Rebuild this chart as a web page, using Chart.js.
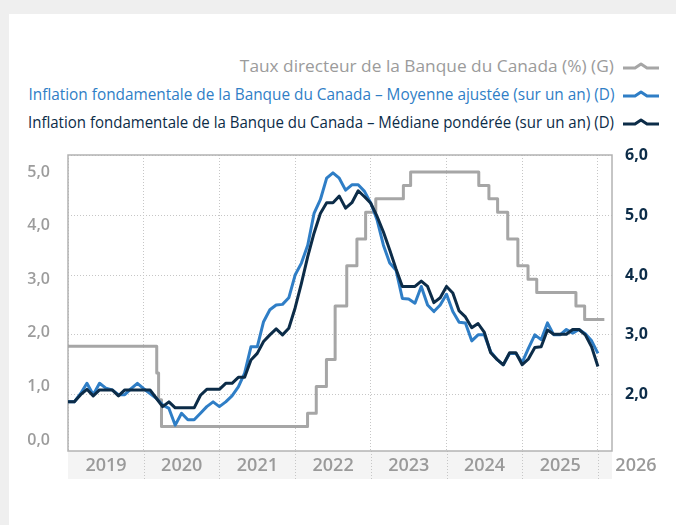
<!DOCTYPE html>
<html lang="fr">
<head>
<meta charset="utf-8">
<title>Taux directeur et inflation fondamentale</title>
<script src="https://cdn.jsdelivr.net/npm/chart.js@4.4.1/dist/chart.umd.min.js"></script>
<style>
  html, body { margin: 0; padding: 0; }
  body { width: 676px; height: 525px; background: #efefef; position: relative; overflow: hidden; font-family: 'Open Sans', sans-serif; }
  .panel { position: absolute; left: 9px; top: 14px; right: 0; bottom: 0; background: #fff; }
  .legend { position: absolute; right: 16px; top: 51px; }
  .legend-row { display: flex; justify-content: flex-end; align-items: center; height: 28px; white-space: nowrap;
    font-family: 'Open Sans', sans-serif; font-size: 17px; }
  .legend-row span { display: inline-block; transform-origin: right center; }
  .legend-row svg { margin-left: 8px; }
  #chart { position: absolute; left: 0; top: 0; }
</style>
</head>
<body>
<div class="panel"></div>
<div class="legend" id="legend"></div>
<canvas id="chart" width="676" height="525"></canvas>
<script>
// monthly series, first point = janvier 2019
const firstYear = 2019;
const trimValues = [
  1.88, 1.88, 2.02, 2.19, 2.0, 2.19, 2.11, 2.08, 2.0, 2.0, 2.1, 2.19,
  2.1, 2.02, 1.94, 1.83, 1.77, 1.49, 1.69, 1.58, 1.58, 1.69, 1.8, 1.88,
  1.8, 1.88, 1.98, 2.13, 2.36, 2.8, 2.8, 3.22, 3.42, 3.5, 3.51, 3.62,
  4.0, 4.2, 4.5, 5.03, 5.26, 5.62, 5.71, 5.62, 5.42, 5.51, 5.51, 5.4,
  5.2, 4.92, 4.5, 4.2, 4.08, 3.61, 3.6, 3.53, 3.81, 3.5, 3.39, 3.5,
  3.68, 3.39, 3.21, 3.2, 2.9, 3.0, 3.0, 2.72, 2.59, 2.5, 2.69, 2.69,
  2.54, 2.78, 3.0, 2.92, 3.2, 3.0, 3.0, 3.09, 3.03, 3.09, 3.02, 2.9, 2.69
];
const medianValues = [
  1.88, 1.88, 2.0, 2.09, 1.98, 2.08, 2.08, 2.08, 1.98, 2.08, 2.08, 2.08,
  2.08, 2.08, 1.94, 1.8, 1.88, 1.78, 1.78, 1.78, 1.78, 1.99, 2.09, 2.09,
  2.09, 2.19, 2.19, 2.29, 2.29, 2.58, 2.69, 2.89, 3.0, 3.1, 3.0, 3.11,
  3.45, 3.86, 4.31, 4.7, 5.03, 5.21, 5.21, 5.32, 5.12, 5.21, 5.41, 5.31,
  5.2, 4.98, 4.72, 4.42, 4.1, 3.81, 3.81, 3.81, 3.9, 3.81, 3.54, 3.62,
  3.81, 3.7, 3.4, 3.3, 3.12, 3.19, 3.04, 2.7, 2.59, 2.5, 2.7, 2.7,
  2.5, 2.6, 2.79, 2.8, 3.08, 3.01, 3.01, 3.01, 3.09, 3.09, 3.0, 2.8, 2.47
];

// taux directeur : dates de changement
const rateDates = [
  '2019-01-01', '2020-03-04', '2020-03-13', '2020-03-27', '2022-03-02', '2022-04-13',
  '2022-06-01', '2022-07-13', '2022-09-07', '2022-10-26', '2022-12-07', '2023-01-25',
  '2023-06-07', '2023-07-12', '2024-06-05', '2024-07-24', '2024-09-04', '2024-10-23',
  '2024-12-11', '2025-01-29', '2025-03-12', '2025-09-17', '2025-10-29', '2026-02-01'
];
const rateValues = [
  1.75, 1.25, 0.75, 0.25, 0.5, 1.0,
  1.5, 2.5, 3.25, 3.75, 4.25, 4.5,
  4.75, 5.0, 4.75, 4.5, 4.25, 3.75,
  3.25, 3.0, 2.75, 2.5, 2.25, 2.25
];

const yearTicks = [2019, 2020, 2021, 2022, 2023, 2024, 2025, 2026];
const leftTicks = [0, 1, 2, 3, 4, 5];
const rightTicks = [2, 3, 4, 5, 6];

const seriesNames = [
  'Taux directeur de la Banque du Canada (%) (G)',
  'Inflation fondamentale de la Banque du Canada – Moyenne ajustée (sur un an) (D)',
  'Inflation fondamentale de la Banque du Canada – Médiane pondérée (sur un an) (D)'
];
const seriesColors = ['#a6a6a6', '#2f7ec6', '#0c2c48'];
const legendTextColors = ['#9b9b9b', '#2f7ec6', '#0c2c48'];
// text widths of the condensed face in the original
const legendTextWidths = [374, 586, 586];

const toYear = (s) => {
  const d = Date.parse(s + 'T00:00:00Z');
  const y = new Date(d).getUTCFullYear();
  const start = Date.UTC(y, 0, 1);
  return y + (d - start) / (Date.UTC(y + 1, 0, 1) - start);
};
const monthly = (values) => values.map((v, i) => ({ x: firstYear + i / 12, y: v }));
const comma = (v) => Number(v).toFixed(1).replace('.', ',');

buildLegend();

function buildLegend() {
  const box = document.getElementById('legend');
  seriesNames.forEach((name, i) => {
    const row = document.createElement('div');
    row.className = 'legend-row';
    row.style.color = legendTextColors[i];
    row.innerHTML = `<span>${name}</span>` +
      `<svg width="38" height="10" viewBox="0 0 38 10"><path d="M1 8 L13 8 L19 4 L25 8 L37 8" fill="none" stroke="${seriesColors[i]}" stroke-width="3" stroke-linejoin="round"/></svg>`;
    box.appendChild(row);
    const span = row.querySelector('span');
    const w = span.getBoundingClientRect().width;
    span.style.transform = `scaleX(${legendTextWidths[i] / w})`;
  });
}

const framePlugin = {
  id: 'frame',
  beforeDraw(chart) {
    const { ctx, chartArea: a, scales: { x } } = chart;
    ctx.save();
    ctx.fillStyle = '#f4f4f4';
    ctx.fillRect(a.left, a.bottom, a.right - a.left, 28);
    ctx.strokeStyle = '#c6c6c6';
    ctx.lineWidth = 1;
    ctx.setLineDash([1, 2]);
    yearTicks.slice(1).forEach((v) => {
      const px = Math.round(x.getPixelForValue(v)) + 0.5;
      ctx.beginPath();
      ctx.moveTo(px, a.bottom);
      ctx.lineTo(px, a.bottom + 28);
      ctx.stroke();
    });
    ctx.restore();
  },
  beforeDatasetsDraw(chart) {
    const { ctx, chartArea: a } = chart;
    ctx.save();
    ctx.strokeStyle = '#b3b3b3';
    ctx.lineWidth = 1.5;
    ctx.strokeRect(a.left, a.top, a.right - a.left, a.bottom - a.top);
    ctx.restore();
  }
};

const setTicks = (list) => (scale) => { scale.ticks = list.map((value) => ({ value })); };

new Chart(document.getElementById('chart'), {
  type: 'line',
  data: {
    datasets: [
      {
        label: seriesNames[2],
        data: monthly(medianValues),
        yAxisID: 'yR',
        borderColor: seriesColors[2],
        borderWidth: 3,
        order: 1
      },
      {
        label: seriesNames[1],
        data: monthly(trimValues),
        yAxisID: 'yR',
        borderColor: seriesColors[1],
        borderWidth: 3,
        order: 2
      },
      {
        label: seriesNames[0],
        data: rateDates.map((d, i) => ({ x: toYear(d), y: rateValues[i] })),
        yAxisID: 'yL',
        borderColor: seriesColors[0],
        borderWidth: 3,
        stepped: true,
        order: 3
      }
    ]
  },
  options: {
    responsive: false,
    animation: false,
    devicePixelRatio: 1,
    layout: { padding: { top: 155, left: 0, right: 0, bottom: 0 } },
    elements: {
      point: { radius: 0 },
      line: { tension: 0, borderJoinStyle: 'round', fill: false }
    },
    plugins: { legend: { display: false }, tooltip: { enabled: false } },
    scales: {
      x: {
        type: 'linear',
        min: 2019,
        max: 2026.186,
        afterBuildTicks: setTicks(yearTicks),
        afterFit: (s) => { s.height = 74; },
        grid: { color: '#c6c6c6', lineWidth: 1, drawTicks: false, borderDash: [1, 2] },
        border: { display: false, dash: [1, 2] },
        ticks: {
          autoSkip: false,
          maxRotation: 0,
          labelOffset: 38,
          padding: 4,
          color: '#9a9a9a',
          font: { family: 'Open Sans', size: 18, weight: '600' },
          callback: (v) => String(v)
        }
      },
      yL: {
        position: 'left',
        min: -0.205,
        max: 5.317,
        afterBuildTicks: setTicks(leftTicks),
        afterFit: (s) => { s.width = 68; },
        grid: { display: false },
        border: { display: false },
        ticks: {
          padding: 10,
          color: '#9c9c9c',
          font: { family: 'Open Sans', size: 16, weight: '600' },
          callback: comma
        }
      },
      yR: {
        position: 'right',
        min: 1.058,
        max: 6.008,
        afterBuildTicks: setTicks(rightTicks),
        afterFit: (s) => { s.width = 64; },
        grid: { color: '#c6c6c6', lineWidth: 1, drawTicks: false, borderDash: [1, 2] },
        border: { display: false, dash: [1, 2] },
        ticks: {
          padding: 13,
          color: '#0c2c48',
          font: { family: 'Open Sans', size: 16, weight: '700' },
          callback: comma
        }
      }
    }
  },
  plugins: [framePlugin]
});
</script>
</body>
</html>
